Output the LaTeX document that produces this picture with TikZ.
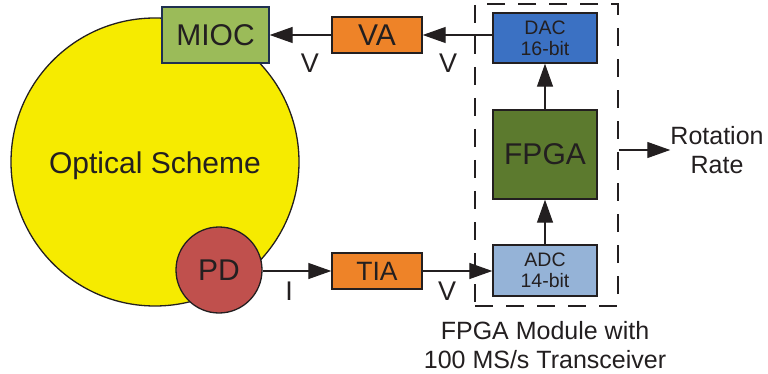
\documentclass[tikz,border=0pt]{standalone}
\usepackage{fontspec}
\setmainfont{Liberation Sans}
\usetikzlibrary{arrows.meta}
\definecolor{ink}{HTML}{231F20}
\definecolor{yel}{HTML}{F6EB00}
\definecolor{miocg}{HTML}{9BBB59}
\definecolor{miocb}{HTML}{1F3050}
\definecolor{org}{HTML}{EE8328}
\definecolor{dacb}{HTML}{3B71C3}
\definecolor{fpgag}{HTML}{5C7A2E}
\definecolor{adcb}{HTML}{95B3D7}
\definecolor{pdr}{HTML}{C0504D}
\tikzset{
  box/.style={draw=ink, line width=1.4pt, rectangle, inner sep=0pt, text=ink, align=center},
  big/.style={font=\fontsize{30}{33}\selectfont},
  mid/.style={font=\fontsize{26.5}{30}\selectfont},
  sml/.style={font=\fontsize{19.5}{22}\selectfont},
  captext/.style={font=\fontsize{25}{29}\selectfont, text=ink, align=center, inner sep=0pt},
  arr/.style={draw=ink, line width=1.3pt, -{Triangle[length=23pt,width=16pt]}},
  lbl/.style={text=ink, inner sep=0pt, font=\fontsize{27}{30}\selectfont}
}
\begin{document}
\begin{tikzpicture}[x=1pt,y=-1pt]
\useasboundingbox (0,0) rectangle (768,374);
% dashed module
\node[draw=ink, line width=1.5pt, dash pattern=on 18pt off 13pt, rectangle, minimum width=143pt, minimum height=302pt, inner sep=0pt] (mod) at (546.5,155) {};
% optical scheme
\node[circle, draw=ink, line width=1.3pt, fill=yel, minimum size=288pt, inner sep=0pt] (os) at (155,162) {};
\node[text=ink, big, inner sep=0pt] (ostext) at (155,166) {Optical Scheme};
\node[circle, draw=ink, line width=1.3pt, fill=pdr, minimum size=86pt, inner sep=0pt, text=ink, big] (pd) at (219,270) {PD};
\node[box, big, draw=miocb, fill=miocg, minimum width=107pt, minimum height=56pt] (mioc) at (215.5,35) {MIOC};
\node[box, big, fill=org, minimum width=90pt, minimum height=36pt] (va) at (377,35) {VA};
\node[box, mid, fill=org, minimum width=90pt, minimum height=36pt] (tia) at (377,271) {TIA};
\node[box, sml, fill=dacb, minimum width=104pt, minimum height=50pt] (dac) at (545,38) {DAC\\[-1pt]16-bit};
\node[box, big, fill=fpgag, minimum width=104pt, minimum height=89pt] (fpga) at (545,154.5) {FPGA};
\node[box, sml, fill=adcb, minimum width=104pt, minimum height=51pt] (adc) at (545,270.5) {ADC\\[-1pt]14-bit};
\node[captext] (rot) at (717,150) {Rotation\\Rate};
\node[captext] (capt) at (545,345) {FPGA Module with\\100 MS/s Transceiver};
% labels
\node[lbl] (v1) at (310,63) {V};
\node[lbl] (v2) at (448,63) {V};
\node[lbl] (il) at (289,291) {I};
\node[lbl] (v3) at (447,291) {V};
% connectors
\draw[arr] (va.west) -- (mioc.east);
\draw[arr] (dac.west |- va.east) -- (va.east);
\draw[arr] (fpga.north) -- (dac.south);
\draw[arr] (adc.north) -- (fpga.south);
\draw[arr] (pd.east |- tia.west) -- (tia.west);
\draw[arr] (tia.east) -- (adc.west |- tia.east);
\draw[arr] (mod.east |- rot.west) -- (rot.west);
\end{tikzpicture}
\end{document}
